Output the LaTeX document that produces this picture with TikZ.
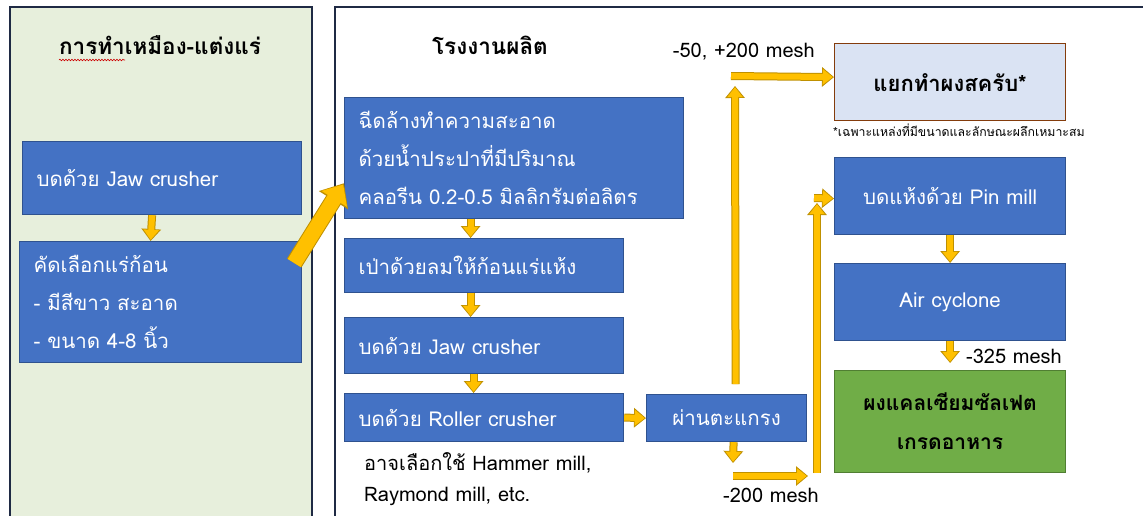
\documentclass[tikz,border=0pt]{standalone}
\usepackage{fontspec}
\setmainfont[Script=Thai]{Loma}
\usetikzlibrary{arrows.meta,decorations.pathmorphing}
\definecolor{panelgreen}{HTML}{E7EFDC}
\definecolor{panelline}{HTML}{1F2A44}
\definecolor{myblue}{HTML}{4472C4}
\definecolor{bluedark}{HTML}{2F528F}
\definecolor{yfill}{HTML}{FFC000}
\definecolor{ydark}{HTML}{BF9000}
\definecolor{scrubfill}{HTML}{DAE3F3}
\definecolor{scrubline}{HTML}{843C0C}
\definecolor{mygreen}{HTML}{70AD47}
\definecolor{greenline}{HTML}{507E32}
\tikzset{
  box/.style={draw=bluedark, fill=myblue, line width=1.2pt, text=white, inner ysep=0pt, anchor=north west, font=\fontsize{20.5}{38}\selectfont},
  lbox/.style={box, align=left, inner xsep=14pt},
  cbox/.style={box, align=center, inner xsep=0pt},
  yarr/.style={line width=8pt, draw=ydark, -{Triangle[length=12pt,width=19pt]},
     postaction={draw=yfill, line width=6pt, -{Triangle[length=10pt,width=15pt]}, shorten >=1.2pt}},
  yarrbig/.style={line width=17pt, draw=ydark, -{Triangle[length=20pt,width=33pt]},
     postaction={draw=yfill, line width=15pt, -{Triangle[length=17pt,width=29pt]}, shorten >=1.5pt}},
  lbl/.style={font=\fontsize{20}{22}\selectfont, text=black, inner sep=0pt},
  ttl/.style={font=\bfseries\fontsize{22.5}{26}\selectfont, text=black, inner sep=0pt},
}
\begin{document}
\begin{tikzpicture}[x=1pt,y=-1pt]
\useasboundingbox (0,0) rectangle (1143,515);
\fill[white] (0,0) rectangle (1143,515);
% panels
\draw[panelline, line width=1.5pt, fill=panelgreen] (10,7) rectangle (312,530);
\draw[panelline, line width=1.5pt, fill=white] (335,7) rectangle (1160,530);
\node[ttl] (t1) at (160,45) {การทำเหมือง-แต่งแร่};
\draw[red!80!black, line width=0.6pt, decorate, decoration={snake, amplitude=0.8pt, segment length=3pt}] (59,60) -- (125,60);
\node[ttl] (t2) at (490,45) {โรงงานผลิต};
% left boxes
\node[lbox, text width=251pt, minimum height=73pt] (L1) at (22,141) {บดด้วย Jaw crusher};
\node[lbox, text width=254pt, minimum height=121pt] (L2) at (19,241) {คัดเลือกแร่ก้อน\\- มีสีขาว สะอาด\\- ขนาด 4-8 นิ้ว};
% middle boxes
\node[lbox, text width=311pt, minimum height=121pt] (W) at (344,97) {ฉีดล้างทำความสะอาด\\ด้วยน้ำประปาที่มีปริมาณ\\คลอรีน 0.2-0.5 มิลลิกรัมต่อลิตร};
\node[lbox, text width=251pt, minimum height=54pt] (B) at (344,238) {เป่าด้วยลมให้ก้อนแร่แห้ง};
\node[lbox, text width=251pt, minimum height=56pt] (J) at (344,317) {บดด้วย Jaw crusher};
\node[lbox, text width=251pt, minimum height=48pt] (R) at (344,393) {บดด้วย Roller crusher};
\node[lbl, anchor=west] (n1) at (364,463) {อาจเลือกใช้ Hammer mill,};
\node[lbl, anchor=west] (n2) at (364,496) {Raymond mill, etc.};
\node[cbox, minimum width=160pt, minimum height=47pt] (S) at (646,394) {ผ่านตะแกรง};
% right boxes
\node[box, draw=scrubline, fill=scrubfill, text=black, font=\bfseries\fontsize{22}{24}\selectfont, minimum width=231pt, minimum height=77pt, inner xsep=0pt] (SC) at (834,43) {แยกทำผงสครับ*};
\node[lbl, anchor=west, font=\fontsize{12.3}{14}\selectfont] (note) at (833,130) {*เฉพาะแหล่งที่มีขนาดและลักษณะผลึกเหมาะสม};
\node[cbox, minimum width=231pt, minimum height=77pt] (P) at (834,157) {บดแห้งด้วย Pin mill};
\node[cbox, minimum width=231pt, minimum height=77pt] (A) at (834,263) {Air cyclone};
\node[cbox, draw=greenline, fill=mygreen, text=black, font=\bfseries\fontsize{21}{39}\selectfont, minimum width=231pt, minimum height=102pt] (G) at (834,370) {ผงแคลเซียมซัลเฟต\\เกรดอาหาร};
% labels
\node[lbl, anchor=east] (m1) at (815,52) {-50, +200 mesh};
\node[lbl] (m2) at (771,495) {-200 mesh};
\node[lbl, anchor=west] (m3) at (966,356) {-325 mesh};
% free ends
\coordinate (upTop) at (735,86);
\coordinate (hStart) at (731,76);
\coordinate (dEnd) at (733,463);
\coordinate (h2s) at (733,476);
\coordinate (h2e) at (808,476);
\coordinate (v2s) at (817,473);
\coordinate (v2e) at (817,203);
\coordinate (h3s) at (814,198);
% arrows
\draw[yarr] ([xshift=-10pt]L1.south) -- ([xshift=-10pt]L2.north);
\draw[yarrbig] ([xshift=-8pt,yshift=-22pt]L2.north east) -- ([yshift=36pt]W.south west);
\draw[yarr] ([xshift=-43.5pt]W.south) -- ([xshift=-13.5pt]B.north);
\draw[yarr] ([xshift=-13.5pt]B.south) -- ([xshift=-13.5pt]J.north);
\draw[yarr] ([xshift=-10.5pt]J.south) -- ([xshift=-10.5pt]R.north);
\draw[yarr] (R.east) -- (S.west);
\draw[yarr] ([xshift=9pt,yshift=10pt]S.north) -- (upTop);
\draw[yarr] (hStart) -- ([yshift=5pt]SC.west);
\draw[yarr] ([xshift=7pt]S.south) -- (dEnd);
\draw[yarr] (h2s) -- (h2e);
\draw[yarr] (v2s) -- (v2e);
\draw[yarr] (h3s) -- ([yshift=-2.5pt]P.west);
\draw[yarr] (P.south) -- (A.north);
\draw[yarr] (A.south) -- ([yshift=7pt]G.north);
\end{tikzpicture}
\end{document}
